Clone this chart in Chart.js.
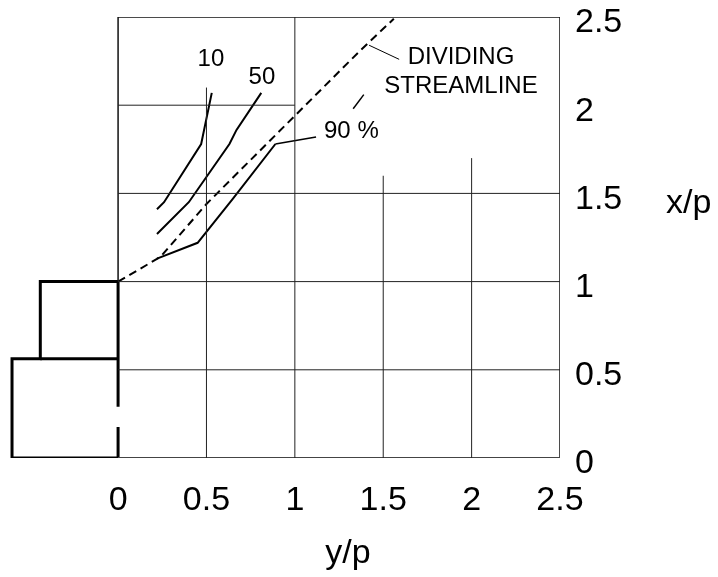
<!DOCTYPE html>
<html>
<head>
<meta charset="utf-8">
<script src="https://cdn.jsdelivr.net/npm/chart.js@4.4.1/dist/chart.umd.min.js"></script>
<style>
  body { margin: 0; background: #fff; }
  #wrap { width: 718px; height: 577px; }
</style>
</head>
<body>
<div id="wrap"><canvas id="chart" width="718" height="577"></canvas></div>
<script>
const xTicks = [0, 0.5, 1, 1.5, 2, 2.5];
const yTicks = [0, 0.5, 1, 1.5, 2, 2.5];

// contour lines, pairs of [y/p, x/p]
const line10 = [[0.22, 1.41], [0.26, 1.45], [0.47, 1.78], [0.53, 2.07]];
const line50 = [[0.22, 1.27], [0.40, 1.45], [0.63, 1.78], [0.67, 1.86], [0.81, 2.07]];
const line90 = [[0.22, 1.13], [0.45, 1.22], [0.65, 1.47], [0.89, 1.78]];
const dividing = [[0, 1], [0.24, 1.14], [0.5, 1.44], [1.0, 1.94], [1.37, 2.31], [1.56, 2.49]];
const stray = [[1.33, 1.98], [1.39, 2.06]];
const leader90 = [[0.89, 1.78], [1.12, 1.82]];
const leaderDiv = [[1.42, 2.34], [1.59, 2.26]];

// the step itself
const stepBody = [[0, 1], [-0.44, 1], [-0.44, 0.5625], [-0.60, 0.5625], [-0.60, 0], [0, 0]];
const stepFaceUpper = [[0, 1], [0, 0.29]];
const stepFaceLower = [[0, 0.176], [0, 0]];
const stepLedge = [[-0.44, 0.5625], [0, 0.5625]];

// grid lines only partly drawn: [at, from, to]
const gridV = [[0.5, 0, 2.1], [1, 0, 2.5], [1.5, 0, 1.6], [2, 0, 1.7]];
const gridH = [[2, 0, 1], [1.5, 0, 2.5], [1, 0, 2.5], [0.5, 0, 2.5]];
const frame = [[0, 1], [0, 2.5], [2.5, 2.5], [2.5, 0]];
const floor = [[0, 0], [2.5, 0]];

const notes = [
  { text: '10', x: 0.525, y: 2.26, align: 'center' },
  { text: '50', x: 0.814, y: 2.16, align: 'center' },
  { text: '90 %', x: 1.165, y: 1.85, align: 'left' },
  { text: 'DIVIDING', x: 1.94, y: 2.27, align: 'center' },
  { text: 'STREAMLINE', x: 1.94, y: 2.105, align: 'center' }
];

const FONT = "'Liberation Sans', Arial, sans-serif";

function pts(arr) {
  return arr.map(p => ({ x: p[0], y: p[1] }));
}

function seg(arr, width, color, dash) {
  return {
    data: pts(arr),
    showLine: true,
    borderColor: color || '#000',
    borderWidth: width,
    borderDash: dash || [],
    pointRadius: 0,
    fill: false,
    tension: 0
  };
}

let datasets = [];
gridV.forEach(g => datasets.push(seg([[g[0], g[1]], [g[0], g[2]]], 1, '#222')));
gridH.forEach(g => datasets.push(seg([[g[1], g[0]], [g[2], g[0]]], 1, '#222')));
datasets.push(seg(floor, 2, '#444'));
datasets.push(seg(frame, 1.5, '#111'));
datasets.push(seg(stepBody, 3));
datasets.push(seg(stepLedge, 3));
datasets.push(seg(stepFaceUpper, 3));
datasets.push(seg(stepFaceLower, 3));
datasets.push(seg(line10, 2));
datasets.push(seg(line50, 2));
datasets.push(seg(line90, 2));
datasets.push(seg(leader90, 1.5));
datasets.push(seg(leaderDiv, 1));
datasets.push(seg(stray, 1.5));
datasets.push(seg(dividing, 2, '#000', [8, 5]));

const textPlugin = {
  id: 'texts',
  afterDatasetsDraw(chart) {
    const ctx = chart.ctx;
    const xs = chart.scales.x, ys = chart.scales.y;
    ctx.save();
    ctx.fillStyle = '#000';
    ctx.textBaseline = 'middle';
    ctx.font = '24px ' + FONT;
    notes.forEach(n => {
      ctx.textAlign = n.align;
      ctx.fillText(n.text, xs.getPixelForValue(n.x), ys.getPixelForValue(n.y));
    });
    // axis titles
    ctx.font = '34px ' + FONT;
    ctx.textBaseline = 'alphabetic';
    ctx.textAlign = 'left';
    ctx.fillText('x/p', chart.chartArea.right + 106, ys.getPixelForValue(1.39));
    ctx.textAlign = 'center';
    ctx.fillText('y/p', xs.getPixelForValue(1.3), chart.chartArea.bottom + 105);
    ctx.restore();
  }
};

new Chart(document.getElementById('chart'), {
  type: 'scatter',
  data: { datasets: datasets },
  options: {
    responsive: false,
    animation: false,
    layout: { padding: 0 },
    scales: {
      x: {
        type: 'linear',
        min: -0.668,
        max: 2.5,
        grid: { display: false, drawTicks: false },
        border: { display: false },
        afterBuildTicks: s => { s.ticks = xTicks.map(v => ({ value: v })); },
        afterFit: s => { s.height = 119; s.paddingLeft = 0; },
        ticks: {
          color: '#000',
          padding: 22,
          maxRotation: 0,
          autoSkip: false,
          font: { family: FONT, size: 34 },
          callback: v => String(v)
        }
      },
      y: {
        type: 'linear',
        position: 'right',
        min: 0,
        max: 2.5,
        grid: { display: false, drawTicks: false },
        border: { display: false },
        afterBuildTicks: s => { s.ticks = yTicks.map(v => ({ value: v })); },
        afterFit: s => { s.width = 158; s.paddingTop = 17; s.paddingBottom = 0; },
        ticks: {
          color: '#000',
          padding: 15,
          labelOffset: 6,
          autoSkip: false,
          font: { family: FONT, size: 34, lineHeight: 1 },
          callback: v => String(v)
        }
      }
    },
    plugins: {
      legend: { display: false },
      tooltip: { enabled: false }
    }
  },
  plugins: [textPlugin]
});
</script>
</body>
</html>
